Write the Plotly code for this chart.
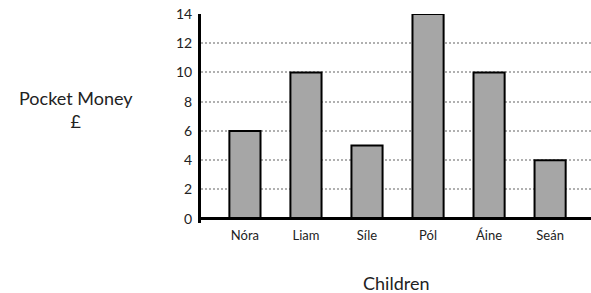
import plotly.graph_objects as go

children = ["Nóra", "Liam", "Síle", "Pól", "Áine", "Seán"]
pocket_money = [6, 10, 5, 14, 10, 4]
y_ticks = [0, 2, 4, 6, 8, 10, 12, 14]

FONT = "Lato, 'Open Sans', sans-serif"

fig = go.Figure(go.Bar(
    x=children,
    y=pocket_money,
    width=0.51,
    marker=dict(color="#a6a6a6", line=dict(color="black", width=2)),
))

fig.update_layout(
    width=591, height=293,
    margin=dict(l=201, r=0, t=14, b=70, autoexpand=False),
    paper_bgcolor="white", plot_bgcolor="white",
    showlegend=False,
    font=dict(family=FONT, size=13, color="#222"),
    xaxis=dict(
        range=[-0.72, 5.67], showgrid=False, zeroline=False, showline=False,
        ticks="", tickfont=dict(size=13, color="#222"), automargin=False,
        ticklabelstandoff=3,
    ),
    yaxis=dict(
        range=[-0.3, 14], tickvals=y_ticks, showgrid=True,
        gridcolor="#b0b0b0", griddash="2px,2px", gridwidth=1.5,
        zeroline=False, showline=True, linecolor="black", linewidth=3,
        ticks="", ticklabelstandoff=3, tickfont=dict(size=14, color="#222"),
        automargin=False,
    ),
    shapes=[dict(type="line", xref="paper", yref="y", x0=0, x1=1, y0=0, y1=0,
                 line=dict(color="black", width=3), layer="above")],
    annotations=[
        dict(text="Pocket Money<br>£", xref="paper", yref="paper", x=-0.3205, y=0.541,
             xanchor="center", yanchor="middle",
             showarrow=False, font=dict(size=18, color="#222"), align="center"),
        dict(text="Children", xref="paper", yref="paper", x=0.5, y=-0.285,
             xanchor="center", yanchor="middle",
             showarrow=False, font=dict(size=18, color="#222")),
    ],
)

fig.write_html(
    "out.html",
    config={"displayModeBar": False},
    post_script="document.body.style.margin='0';document.body.style.overflow='hidden';",
)
